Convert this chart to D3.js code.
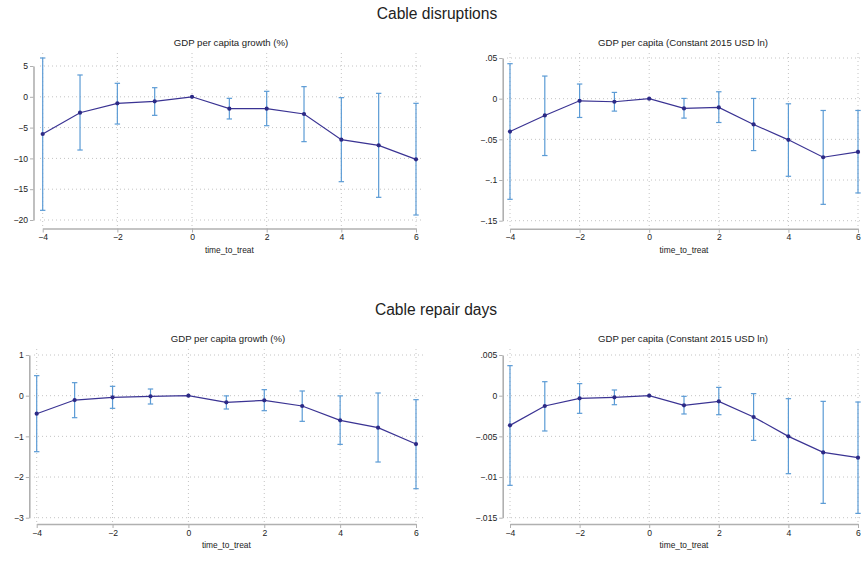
<!DOCTYPE html>
<html>
<head>
<meta charset="utf-8">
<script src="https://cdn.jsdelivr.net/npm/d3@7"></script>
<style>
  html, body { margin: 0; padding: 0; background: #fff; }
  svg { display: block; font-family: "Liberation Sans", Arial, Helvetica, sans-serif; }
</style>
</head>
<body>
<svg id="chart" width="861" height="561"></svg>
<script>
// Event-study estimates with 95% confidence intervals
const timeToTreat = [-4, -3, -2, -1, 0, 1, 2, 3, 4, 5, 6];

// Cable disruptions — GDP per capita growth (%)
const disruptGrowthCoef = [-6.04, -2.58, -1.06, -0.74, 0, -1.93, -1.93, -2.79, -6.96, -7.88, -10.15];
const disruptGrowthLo   = [-18.43, -8.64, -4.42, -3.01, 0, -3.6, -4.69, -7.28, -13.78, -16.32, -19.19];
const disruptGrowthHi   = [6.3, 3.54, 2.19, 1.48, 0, -0.25, 0.89, 1.65, -0.14, 0.56, -1.06];

// Cable disruptions — GDP per capita (Constant 2015 USD ln)
const disruptLevelCoef = [-0.0404, -0.0206, -0.0026, -0.0038, 0, -0.012, -0.0108, -0.0317, -0.0506, -0.072, -0.0654];
const disruptLevelLo   = [-0.1237, -0.0699, -0.0231, -0.0153, 0, -0.0239, -0.0293, -0.0638, -0.0954, -0.1299, -0.1159];
const disruptLevelHi   = [0.043, 0.0278, 0.018, 0.0077, 0, 0.0003, 0.0085, 0.0003, -0.0063, -0.0145, -0.0145];

// Cable repair days — GDP per capita growth (%)
const repairGrowthCoef = [-0.443, -0.107, -0.041, -0.016, 0, -0.164, -0.115, -0.254, -0.607, -0.787, -1.189];
const repairGrowthLo   = [-1.377, -0.541, -0.311, -0.205, 0, -0.328, -0.369, -0.631, -1.197, -1.631, -2.287];
const repairGrowthHi   = [0.492, 0.32, 0.23, 0.164, 0, -0.005, 0.148, 0.115, -0.005, 0.066, -0.098];

// Cable repair days — GDP per capita (Constant 2015 USD ln)
const repairLevelCoef = [-0.00365, -0.00127, -0.00033, -0.0002, 0, -0.00119, -0.0007, -0.00262, -0.005, -0.00697, -0.00762];
const repairLevelLo   = [-0.01102, -0.00434, -0.00217, -0.00111, 0, -0.00225, -0.00234, -0.00549, -0.00959, -0.01324, -0.01447];
const repairLevelHi   = [0.00369, 0.00172, 0.00148, 0.0007, 0, -0.00008, 0.00102, 0.00025, -0.00037, -0.0007, -0.00078];

// Axis ticks and labels
const xTicks = [-4, -2, 0, 2, 4, 6];
const xTickLabels = ["\u22124", "\u22122", "0", "2", "4", "6"];
const growthTopTicks = [-20, -15, -10, -5, 0, 5];
const growthTopLabels = ["\u221220", "\u221215", "\u221210", "\u22125", "0", "5"];
const levelTopTicks = [-0.15, -0.1, -0.05, 0, 0.05];
const levelTopLabels = ["\u2212.15", "\u2212.1", "\u2212.05", "0", ".05"];
const growthBottomTicks = [-3, -2, -1, 0, 1];
const growthBottomLabels = ["\u22123", "\u22122", "\u22121", "0", "1"];
const levelBottomTicks = [-0.015, -0.01, -0.005, 0, 0.005];
const levelBottomLabels = ["\u2212.015", "\u2212.01", "\u2212.005", "0", ".005"];

const sectionTitles = ["Cable disruptions", "Cable repair days"];
const panelTitles = ["GDP per capita growth (%)", "GDP per capita (Constant 2015 USD ln)"];
const xTitle = "time_to_treat";

const COLORS = { line: "#3a3393", point: "#2c2a86", ci: "#5b9bd5", axis: "#b0b0b0", grid: "#c4c4c4", text: "#222" };

const svg = d3.select("#chart");

// Section headings
const headingPos = [{ x: 437, y: 19 }, { x: 436, y: 315 }];
sectionTitles.forEach((t, i) => {
  svg.append("text").attr("x", headingPos[i].x).attr("y", headingPos[i].y)
    .attr("text-anchor", "middle").attr("font-size", 15.6).attr("fill", COLORS.text).text(t);
});

// Panel layout: region = plotting area (grid), axis positions, scale ranges
const panels = [
  { title: panelTitles[0], coef: disruptGrowthCoef, lo: disruptGrowthLo, hi: disruptGrowthHi,
    yTicks: growthTopTicks, yLabels: growthTopLabels,
    xr: [42.7, 416], yr: [220, 66], axX: 33.5, axY: 228.5, reg: [40, 423, 53, 226], titleY: 46 },
  { title: panelTitles[1], coef: disruptLevelCoef, lo: disruptLevelLo, hi: disruptLevelHi,
    yTicks: levelTopTicks, yLabels: levelTopLabels,
    xr: [510, 858], yr: [220.7, 58], axX: 502.7, axY: 228.8, reg: [507, 860, 53, 226], titleY: 46 },
  { title: panelTitles[0], coef: repairGrowthCoef, lo: repairGrowthLo, hi: repairGrowthHi,
    yTicks: growthBottomTicks, yLabels: growthBottomLabels,
    xr: [36.7, 416], yr: [517.7, 355], axX: 29.3, axY: 524, reg: [34, 423, 349, 522], titleY: 342 },
  { title: panelTitles[1], coef: repairLevelCoef, lo: repairLevelLo, hi: repairLevelHi,
    yTicks: levelBottomTicks, yLabels: levelBottomLabels,
    xr: [510, 858], yr: [517.7, 355], axX: 502.7, axY: 524, reg: [507, 860, 349, 522], titleY: 342 }
];

panels.forEach(p => {
  const g = svg.append("g");
  const x = d3.scaleLinear().domain([d3.min(xTicks), d3.max(xTicks)]).range(p.xr);
  const y = d3.scaleLinear().domain([d3.min(p.yTicks), d3.max(p.yTicks)]).range(p.yr);
  const [rx0, rx1, ry0, ry1] = p.reg;

  // dotted grid
  g.selectAll(".hgrid").data(p.yTicks).join("line")
    .attr("x1", rx0).attr("x2", rx1).attr("y1", d => y(d)).attr("y2", d => y(d))
    .attr("stroke", COLORS.grid).attr("stroke-width", 1).attr("stroke-dasharray", "1,3");
  g.selectAll(".vgrid").data(xTicks).join("line")
    .attr("x1", d => x(d)).attr("x2", d => x(d)).attr("y1", ry0).attr("y2", ry1)
    .attr("stroke", COLORS.grid).attr("stroke-width", 1).attr("stroke-dasharray", "1,3");

  // title
  g.append("text").attr("x", (rx0 + Math.min(rx1, 860)) / 2 - 0.5).attr("y", p.titleY)
    .attr("text-anchor", "middle").attr("font-size", 9.6).attr("fill", COLORS.text).text(p.title);

  // axes
  const yAxis = d3.axisLeft(y).tickValues(p.yTicks).tickFormat((d, i) => p.yLabels[i])
    .tickSizeInner(3.5).tickSizeOuter(0).tickPadding(2);
  const ya = g.append("g").attr("transform", `translate(${p.axX},0)`).call(yAxis);
  const xAxis = d3.axisBottom(x).tickValues(xTicks).tickFormat((d, i) => xTickLabels[i])
    .tickSizeInner(4).tickSizeOuter(0).tickPadding(1.5);
  const xa = g.append("g").attr("transform", `translate(0,${p.axY})`).call(xAxis);
  [ya, xa].forEach(a => {
    a.select(".domain").attr("stroke", COLORS.axis).attr("stroke-width", 1.6);
    a.selectAll(".tick line").attr("stroke", COLORS.axis).attr("stroke-width", 1);
    a.selectAll("text").attr("font-size", 8.6).attr("fill", COLORS.text)
      .attr("font-family", "'Liberation Sans', Arial, sans-serif");
  });

  g.append("text").attr("x", (p.xr[0] + p.xr[1]) / 2).attr("y", p.axY + 24)
    .attr("text-anchor", "middle").attr("font-size", 8.4).attr("fill", COLORS.text).text(xTitle);

  // confidence intervals with caps (skip the reference period, which has none)
  const rows = timeToTreat.map((t, i) => ({ t, c: p.coef[i], lo: p.lo[i], hi: p.hi[i] }));
  const ci = rows.filter(d => d.lo !== d.hi);
  const capW = 2.7;
  g.selectAll(".ci").data(ci).join("line")
    .attr("x1", d => x(d.t)).attr("x2", d => x(d.t)).attr("y1", d => y(d.lo)).attr("y2", d => y(d.hi))
    .attr("stroke", COLORS.ci).attr("stroke-width", 1.2);
  ["lo", "hi"].forEach(k => {
    g.selectAll(".cap-" + k).data(ci).join("line")
      .attr("x1", d => x(d.t) - capW).attr("x2", d => x(d.t) + capW)
      .attr("y1", d => y(d[k])).attr("y2", d => y(d[k]))
      .attr("stroke", COLORS.ci).attr("stroke-width", 1.2);
  });

  // point estimates
  g.append("path").datum(rows)
    .attr("d", d3.line().x(d => x(d.t)).y(d => y(d.c)))
    .attr("fill", "none").attr("stroke", COLORS.line).attr("stroke-width", 1.2);
  g.selectAll(".pt").data(rows).join("circle")
    .attr("cx", d => x(d.t)).attr("cy", d => y(d.c)).attr("r", 2.1)
    .attr("fill", COLORS.point);
});
</script>
</body>
</html>
